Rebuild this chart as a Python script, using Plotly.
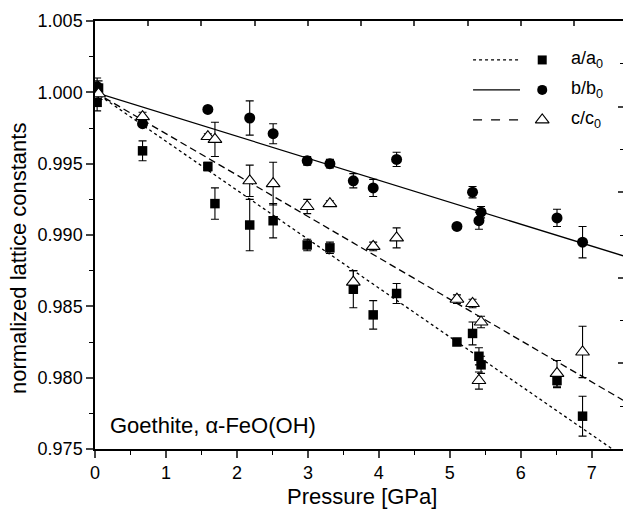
import plotly.graph_objects as go

# ---------------- data ----------------
a_x = [0.03, 0.05, 0.67, 1.59, 1.69, 2.18, 2.51, 2.99, 3.31, 3.64, 3.92, 4.25, 5.10, 5.32, 5.41, 5.44, 6.51, 6.87]
a_y = [0.9993, 1.0003, 0.9959, 0.9948, 0.9922, 0.9907, 0.9910, 0.9893, 0.9891, 0.9862, 0.9844, 0.9859,
       0.9825, 0.9831, 0.9815, 0.9809, 0.9798, 0.9773]
a_err = [0.0006, 0.0005, 0.0007, 0.0003, 0.0011, 0.0018, 0.0012, 0.0004, 0.0004, 0.0013, 0.0010, 0.0007,
         0.0002, 0.0008, 0.0006, 0.0006, 0.0005, 0.0014]

b_x = [0.03, 0.67, 1.59, 2.18, 2.51, 2.99, 3.31, 3.64, 3.92, 4.25, 5.10, 5.32, 5.44, 5.41, 6.51, 6.87]
b_y = [1.0004, 0.9978, 0.9988, 0.9982, 0.9971, 0.9952, 0.9950, 0.9938, 0.9933, 0.9953, 0.9906, 0.9930,
       0.9916, 0.9910, 0.9912, 0.9895]
b_err = [0.0006, 0.0002, 0.0, 0.0012, 0.0007, 0.0003, 0.0003, 0.0005, 0.0006, 0.0005, 0.0, 0.0004,
         0.0004, 0.0006, 0.0006, 0.0011]

c_x = [0.05, 0.67, 1.59, 1.69, 2.18, 2.51, 2.99, 3.31, 3.64, 3.92, 4.25, 5.10, 5.32, 5.44, 5.41, 6.51, 6.87]
c_y = [0.9999, 0.9983, 0.9969, 0.9967, 0.9938, 0.9936, 0.9920, 0.9922, 0.9867, 0.9892, 0.9898, 0.9855,
       0.9852, 0.9839, 0.9798, 0.9803, 0.9818]
c_err = [0.0004, 0.0003, 0.0002, 0.0012, 0.0011, 0.0015, 0.0005, 0.0002, 0.0008, 0.0003, 0.0007, 0.0003,
         0.0003, 0.0004, 0.0006, 0.0009, 0.0018]

# linear fits: value = 1 + slope * P
slope_a = -0.00343
slope_b = -0.00154
slope_c = -0.00290

legend_labels = ["a/a<sub>0</sub>", "b/b<sub>0</sub>", "c/c<sub>0</sub>"]

x_range = [0, 7.44]
y_range = [0.975, 1.005]
x_ticks = [0, 1, 2, 3, 4, 5, 6, 7]
y_ticks = [0.975, 0.980, 0.985, 0.990, 0.995, 1.000, 1.005]

FONT = "Arial, Liberation Sans, sans-serif"

fig = go.Figure()

fit_x = [x_range[0], x_range[1]]
for slope, dash in [(slope_a, "dot"), (slope_b, "solid"), (slope_c, "7px,4px")]:
    fig.add_trace(go.Scatter(x=fit_x, y=[1 + slope * v for v in fit_x], mode="lines",
                             line=dict(color="black", width=1.3, dash=dash),
                             showlegend=False, hoverinfo="skip", cliponaxis=True))

err_style = dict(type="data", visible=True, color="black", thickness=1.1, width=4)

fig.add_trace(go.Scatter(x=a_x, y=a_y, mode="markers",
                         error_y=dict(array=a_err, **err_style),
                         marker=dict(symbol="square", size=9.5, color="black"),
                         showlegend=False))
fig.add_trace(go.Scatter(x=b_x, y=b_y, mode="markers",
                         error_y=dict(array=b_err, **err_style),
                         marker=dict(symbol="circle", size=11, color="black"),
                         showlegend=False))
fig.add_trace(go.Scatter(x=c_x, y=c_y, mode="markers",
                         error_y=dict(array=c_err, **err_style),
                         marker=dict(symbol="triangle-up", size=12, color="white",
                                     line=dict(color="black", width=1.1)),
                         showlegend=False))

# manual legend (line sample | marker | label), on a hidden unit overlay axis
leg_rows = [0.909, 0.839, 0.769]
leg_line_x0, leg_line_x1 = 0.716, 0.805
leg_marker_x = 0.847
leg_text_x = 0.897
leg_dash = ["dot", "solid", "dash"]
leg_sym = [dict(symbol="square", size=9, color="black"),
           dict(symbol="circle", size=10, color="black"),
           dict(symbol="triangle-up", size=12, color="white", line=dict(color="black", width=1.1))]
for i in range(3):
    fig.add_trace(go.Scatter(x=[leg_line_x0, leg_line_x1], y=[leg_rows[i]] * 2, mode="lines",
                             line=dict(color="black", width=1.2, dash=leg_dash[i]),
                             xaxis="x3", yaxis="y3", showlegend=False, hoverinfo="skip"))
    fig.add_trace(go.Scatter(x=[leg_marker_x], y=[leg_rows[i]], mode="markers",
                             marker=leg_sym[i], xaxis="x3", yaxis="y3",
                             showlegend=False, hoverinfo="skip"))
    fig.add_annotation(x=leg_text_x, y=leg_rows[i], xref="paper", yref="paper",
                       text=legend_labels[i], showarrow=False, xanchor="left", yanchor="middle",
                       font=dict(family=FONT, size=18, color="black"))

fig.add_annotation(x=0.024, y=0.056, xref="paper", yref="paper", text="Goethite, α-FeO(OH)",
                   showarrow=False, xanchor="left", yanchor="middle",
                   font=dict(family=FONT, size=22, color="black"))
fig.add_annotation(x=0.505, y=-0.112, xref="paper", yref="paper", text="Pressure [GPa]",
                   showarrow=False, xanchor="center", yanchor="middle",
                   font=dict(family=FONT, size=22, color="black"))
fig.add_annotation(x=-0.146, y=0.446, xref="paper", yref="paper", text="normalized lattice constants",
                   showarrow=False, xanchor="center", yanchor="middle", textangle=-90,
                   font=dict(family=FONT, size=22, color="black"))

fig.update_layout(
    width=623, height=516,
    margin=dict(l=95, r=0, t=21, b=67),
    paper_bgcolor="white", plot_bgcolor="white",
    font=dict(family=FONT, size=18, color="black"),
    showlegend=False,
    xaxis=dict(range=x_range, tickvals=x_ticks, ticks="outside", ticklen=7, tickwidth=1.5,
               showline=True, linewidth=1.5, linecolor="black", showgrid=False, zeroline=False,
               minor=dict(dtick=0.5, tick0=0, ticks="outside", ticklen=4, tickwidth=1.3,
                          tickcolor="black", showgrid=False),
               tickfont=dict(size=18)),
    yaxis=dict(range=y_range, tickvals=y_ticks, tickformat=".3f", ticks="outside", ticklen=7,
               tickwidth=1.5, showline=True, linewidth=1.5, linecolor="black", showgrid=False,
               zeroline=False,
               minor=dict(dtick=0.0025, tick0=0.975, ticks="outside", ticklen=4, tickwidth=1.3,
                          tickcolor="black", showgrid=False),
               tickfont=dict(size=18)),
    xaxis2=dict(overlaying="x", side="top", range=x_range, tick0=0, dtick=0.75, ticks="inside",
                ticklen=5, tickwidth=1.5, showticklabels=False, showline=True, linewidth=1.5,
                linecolor="black", showgrid=False, zeroline=False, anchor="y"),
    yaxis2=dict(overlaying="y", side="right", range=y_range, tick0=0.975, dtick=0.006,
                ticks="inside", ticklen=5, tickwidth=1.5, showticklabels=False, showline=True,
                linewidth=1.5, linecolor="black", showgrid=False, zeroline=False, anchor="x",
                minor=dict(dtick=0.003, tick0=0.975, ticks="inside", ticklen=3, tickwidth=1.2,
                           tickcolor="black", showgrid=False)),
    xaxis3=dict(overlaying="x", range=[0, 1], visible=False, anchor="y3"),
    yaxis3=dict(overlaying="y", range=[0, 1], visible=False, anchor="x3"),
)

# make the secondary axes exist by attaching an invisible trace to them
fig.add_trace(go.Scatter(x=[None], y=[None], xaxis="x2", yaxis="y2", showlegend=False))

fig.write_html("out.html", config={"displayModeBar": False},
               post_script="document.body.style.margin='0';document.body.style.overflow='hidden';")
